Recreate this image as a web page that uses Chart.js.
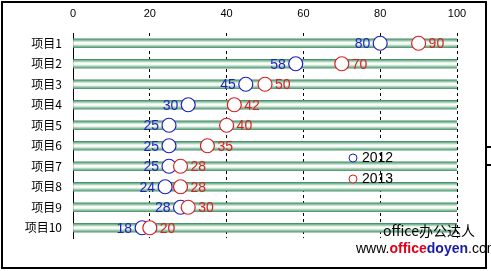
<!DOCTYPE html>
<html>
<head>
<meta charset="utf-8">
<script src="https://cdn.jsdelivr.net/npm/chart.js@4"></script>
<style>
  body { margin: 0; background: #fff; }
  #wrap { position: relative; width: 491px; height: 271px; overflow: hidden; }
  #frame { position: absolute; left: 1px; top: 1px; width: 482px; height: 264px; border: 2px solid #000; }
  canvas { position: absolute; left: 0; top: 0; }
  .mark { position: absolute; left: 486px; width: 6px; height: 2px; background: #000; }
  .site { position: absolute; left: 356px; top: 240px; font: 14px "Liberation Sans", sans-serif; white-space: nowrap; }
  .brand { position: absolute; left: 383px; top: 220px; font: 14px "Noto Sans CJK SC", sans-serif; white-space: nowrap; }
</style>
</head>
<body>
<div id="wrap">
  <div id="frame"></div>
  <canvas id="chart" width="491" height="271"></canvas>
  <div class="mark" style="top:146px"></div>
  <div class="mark" style="top:164px"></div>
  <div class="brand">office办公达人</div>
  <div class="site">www.<b style="color:#e0001b">office</b><b style="color:#1a1aa8">doyen</b>.com</div>
</div>
<script>
// data
const categories = ['项目1', '项目2', '项目3', '项目4', '项目5', '项目6', '项目7', '项目8', '项目9', '项目10'];
const values2012 = [80, 58, 45, 30, 25, 25, 25, 24, 28, 18];
const values2013 = [90, 70, 50, 42, 40, 35, 28, 28, 30, 20];
const bandValues = [100, 100, 100, 100, 100, 100, 100, 100, 100, 100];
const xTicks = [0, 20, 40, 60, 80, 100];

const BLUE = '#1f1fbf';
const RED = '#d92020';

// green striped band for every row
function bandFill(ctx) {
  const chart = ctx.chart;
  const y = chart.scales.y;
  if (!y || !chart.chartArea) return '#7fb796';
  const c = y.getPixelForValue(ctx.dataIndex);
  const g = chart.ctx.createLinearGradient(0, c - 4.5, 0, c + 4.5);
  g.addColorStop(0, '#3f8a60');
  g.addColorStop(0.18, '#8cc3a2');
  g.addColorStop(0.42, '#ffffff');
  g.addColorStop(0.62, '#f0f7f2');
  g.addColorStop(0.8, '#9cc9ad');
  g.addColorStop(1, '#4f9670');
  return g;
}

// value labels next to the circles
const valueLabels = {
  id: 'valueLabels',
  afterDatasetsDraw(chart) {
    const ctx = chart.ctx;
    ctx.save();
    ctx.font = '14px "Liberation Sans", sans-serif';
    ctx.textBaseline = 'middle';
    [1, 2].forEach(i => {
      const ds = chart.data.datasets[i];
      chart.getDatasetMeta(i).data.forEach((pt, j) => {
        ctx.fillStyle = ds.borderColor;
        if (i === 1) {
          ctx.textAlign = 'right';
          ctx.fillText(ds.data[j], pt.x - 10, pt.y + 1);
        } else {
          ctx.textAlign = 'left';
          ctx.fillText(ds.data[j], pt.x + 10, pt.y + 1);
        }
      });
    });
    ctx.restore();
  }
};

// small legend inside the plot
const innerLegend = {
  id: 'innerLegend',
  afterDraw(chart) {
    const ctx = chart.ctx;
    ctx.save();
    ctx.font = '14px "Liberation Sans", sans-serif';
    ctx.textBaseline = 'middle';
    ctx.textAlign = 'left';
    [1, 2].forEach((i, k) => {
      const ds = chart.data.datasets[i];
      const y = 158 + k * 21;
      ctx.beginPath();
      ctx.arc(353, y, 4, 0, Math.PI * 2);
      ctx.fillStyle = '#fff';
      ctx.fill();
      ctx.strokeStyle = ds.borderColor;
      ctx.lineWidth = 1;
      ctx.stroke();
      ctx.fillStyle = '#000';
      ctx.fillText(ds.label, 362, y);
    });
    ctx.restore();
  }
};

new Chart(document.getElementById('chart'), {
  type: 'bar',
  data: {
    labels: categories,
    datasets: [
      {
        type: 'bar',
        label: 'band',
        data: bandValues,
        indexAxis: 'y',
        backgroundColor: bandFill,
        barThickness: 9,
        order: 3
      },
      {
        type: 'line',
        label: '2012',
        data: values2012,
        indexAxis: 'y',
        showLine: false,
        borderColor: BLUE,
        pointBorderColor: BLUE,
        pointBackgroundColor: '#fff',
        pointRadius: 7,
        pointBorderWidth: 1.2,
        order: 2
      },
      {
        type: 'line',
        label: '2013',
        data: values2013,
        indexAxis: 'y',
        showLine: false,
        borderColor: RED,
        pointBorderColor: RED,
        pointBackgroundColor: '#fff',
        pointRadius: 7,
        pointBorderWidth: 1.2,
        order: 1
      }
    ]
  },
  options: {
    indexAxis: 'y',
    responsive: false,
    animation: false,
    layout: { padding: { left: 0, top: 0, right: 34, bottom: 33 } },
    plugins: {
      legend: { display: false },
      tooltip: { enabled: false }
    },
    scales: {
      x: {
        type: 'linear',
        position: 'top',
        min: 0,
        max: 100,
        afterBuildTicks: axis => { axis.ticks = xTicks.map(v => ({ value: v })); },
        afterFit: axis => { axis.height = 33; },
        border: { display: false, dash: [3, 3] },
        grid: {
          drawTicks: false,
          color: c => (c.tick && c.tick.value === 0 ? 'rgba(0,0,0,0)' : '#000'),
          lineWidth: 1
        },
        ticks: {
          padding: 12,
          color: '#000',
          font: { family: '"Liberation Sans", sans-serif', size: 11 }
        }
      },
      y: {
        type: 'category',
        afterFit: axis => { axis.width = 73; },
        border: { display: true, color: '#000', width: 1 },
        grid: { display: false, drawTicks: false },
        ticks: {
          padding: 11,
          color: '#000',
          font: { family: '"Noto Sans CJK SC", sans-serif', size: 12 }
        }
      }
    }
  },
  plugins: [valueLabels, innerLegend]
});
</script>
</body>
</html>
